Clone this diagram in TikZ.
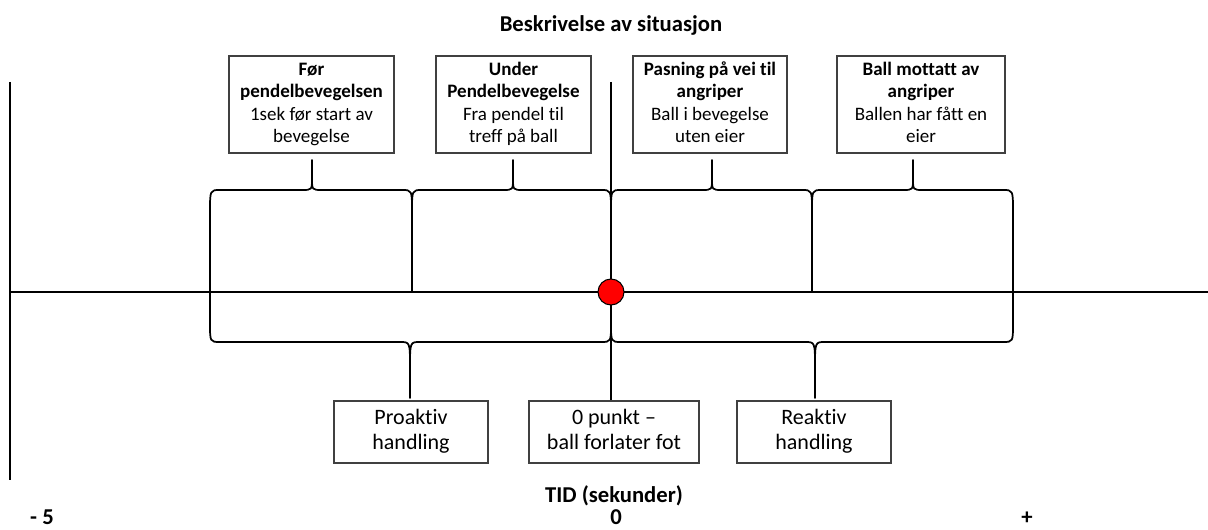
\documentclass[tikz,border=0pt]{standalone}
\usepackage{fontspec}
\setmainfont{Carlito}[Ligatures=NoCommon]
\definecolor{ballrod}{HTML}{FF0000}
\definecolor{boksgraa}{HTML}{404040}

% klamme: venstre x, hoyre x, spiss x, ende y, arm y, flat y, bue y, spiss y
\newcommand{\klamme}[8]{%
  \draw[klamme] (#1,#4) -- (#1,#5) .. controls (#1,#6) .. (#1+10,#6)
    -- (#3-10,#6) .. controls (#3,#6) .. (#3,#7) -- (#3,#8) -- (#3,#7)
    .. controls (#3,#6) .. (#3+10,#6)
    -- (#2-10,#6) .. controls (#2,#6) .. (#2,#5) -- (#2,#4);}
% fast hoyde og dybde for tekst i boksene under aksen
\newcommand{\hopp}{\rule{0pt}{11.5pt}}
\newcommand{\dybde}{\rule[-3.5pt]{0pt}{0pt}}

\begin{document}
\begin{tikzpicture}[x=0.75pt, y=-0.75pt,
    boks/.style={draw=boksgraa, line width=1pt, align=center, inner sep=2pt,
      minimum height=72.75pt, font=\fontsize{14.25}{16.7}\selectfont},
    handling/.style={draw=boksgraa, line width=1pt, align=center, inner sep=2pt,
      minimum height=46.5pt, font=\fontsize{16.5}{18.75}\selectfont},
    akse/.style={line width=1.3pt},
    klamme/.style={line width=1.3pt, line join=round},
    tall/.style={font=\fontsize{17}{20}\selectfont\bfseries, anchor=base}]
  \useasboundingbox (0,0) rectangle (1208,530);

  % overskrift
  \node[tall] (tittel) at (611,32) {Beskrivelse av situasjon};

  % tidsakse
  \coordinate (ytopp) at (10,82);
  \coordinate (ybunn) at (10,480);
  \coordinate (xslutt) at (1208,292);
  \draw[akse] (ytopp) -- (ybunn);
  \draw[akse] (ytopp |- xslutt) -- (xslutt);

  % klammer over aksen
  \foreach \a/\b/\s in {210/412/312, 412/611/513, 611/812/712, 812/1013/913}
    {\klamme{\a}{\b}{\s}{292}{212}{190}{178}{160}}

  % klammer under aksen
  \klamme{210}{611}{410}{292}{323}{342}{368}{398}
  \klamme{611}{1013}{815}{292}{323}{342}{368}{398}

  % situasjonene
  \node[boks, minimum width=123.75pt] (foer) at (311.5,104.5)
    {\strut\textbf{Før}\\\textbf{pendelbevegelsen}\\1sek før start av\\bevegelse\strut};
  \node[boks, minimum width=116.25pt] (under) at (513.5,104.5)
    {\strut\textbf{Under}\\\textbf{Pendelbevegelse}\\Fra pendel til\\treff på ball\strut};
  \node[boks, minimum width=115.5pt] (pasning) at (710,104.5)
    {\strut\textbf{Pasning på vei til}\\\textbf{angriper}\\Ball i bevegelse\\uten eier\strut};
  \node[boks, minimum width=126pt] (mottatt) at (921,104.5)
    {\strut\textbf{Ball mottatt av}\\\textbf{angriper}\\Ballen har fått en\\eier\strut};

  % handlinger
  \node[handling, minimum width=115.5pt] (proaktiv) at (411,432) {\hopp Proaktiv\\handling\dybde};
  \node[handling, minimum width=127.5pt] (nullpkt) at (614,432) {\hopp 0 punkt –\\ball forlater fot\dybde};
  \node[handling, minimum width=115.5pt] (reaktiv) at (814,432) {\hopp Reaktiv\\handling\dybde};

  % nullpunkt
  \coordinate (nulltopp) at (611,82);
  \draw[akse] (nulltopp) -- (nulltopp |- nullpkt.north);
  \node[circle, draw, line width=0.8pt, fill=ballrod, minimum size=19.5pt, inner sep=0pt] (ball) at (611,292) {};

  % tid
  \node[tall] (tid) at (614,503) {TID (sekunder)};
  \node[tall] (minus) at (42,525) {- 5};
  \node[tall] (null) at (616,525) {0};
  \node[tall] (pluss) at (1027,525) {+};
\end{tikzpicture}
\end{document}
